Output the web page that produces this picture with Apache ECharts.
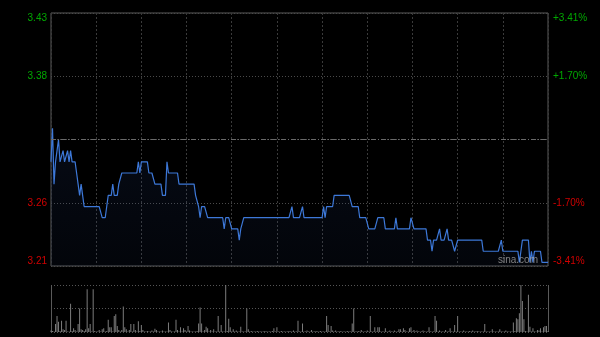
<!DOCTYPE html>
<html>
<head>
<meta charset="utf-8">
<script src="https://cdn.jsdelivr.net/npm/echarts@6/dist/echarts.min.js"></script>
<style>
html,body{margin:0;padding:0;background:#000;}
#c{width:600px;height:337px;}
</style>
</head>
<body>
<div id="c"></div>
<script>
// previous close and tick labels
var prevClose = 3.32;
var tickPct = [-3.41, -1.705, 0, 1.705, 3.41];
var leftLabels = ['3.21', '3.26', '', '3.38', '3.43'];
var rightLabels = ['-3.41%', '-1.70%', '', '+1.70%', '+3.41%'];

// minute prices (HK session, 331 minutes)
var prices = [
3.30,3.33,3.28,3.30,3.30,3.32,3.30,3.30,3.31,3.30,
3.30,3.31,3.30,3.31,3.30,3.30,3.30,3.29,3.28,3.27,
3.28,3.27,3.26,3.26,3.26,3.26,3.26,3.26,3.26,3.26,
3.26,3.26,3.26,3.26,3.25,3.25,3.25,3.26,3.27,3.27,
3.27,3.28,3.27,3.27,3.27,3.28,3.28,3.29,3.29,3.29,
3.29,3.29,3.29,3.29,3.29,3.29,3.29,3.29,3.30,3.29,
3.30,3.30,3.30,3.30,3.30,3.29,3.29,3.29,3.29,3.28,
3.28,3.28,3.28,3.28,3.27,3.27,3.27,3.30,3.29,3.29,
3.29,3.29,3.29,3.29,3.29,3.28,3.28,3.28,3.28,3.28,
3.28,3.28,3.28,3.28,3.28,3.28,3.27,3.27,3.26,3.25,
3.26,3.26,3.26,3.26,3.25,3.25,3.25,3.25,3.25,3.25,
3.25,3.25,3.25,3.25,3.25,3.24,3.25,3.25,3.25,3.25,
3.24,3.24,3.24,3.24,3.24,3.23,3.24,3.24,3.25,3.25,
3.25,3.25,3.25,3.25,3.25,3.25,3.25,3.25,3.25,3.25,
3.25,3.25,3.25,3.25,3.25,3.25,3.25,3.25,3.25,3.25,
3.25,3.25,3.25,3.25,3.25,3.25,3.25,3.25,3.25,3.25,
3.26,3.25,3.25,3.25,3.25,3.25,3.25,3.26,3.25,3.25,
3.25,3.25,3.25,3.25,3.25,3.25,3.25,3.25,3.25,3.25,
3.25,3.26,3.25,3.26,3.26,3.26,3.26,3.26,3.27,3.27,
3.27,3.27,3.27,3.27,3.27,3.27,3.27,3.27,3.27,3.27,
3.26,3.26,3.26,3.26,3.26,3.25,3.25,3.25,3.25,3.25,
3.25,3.24,3.24,3.24,3.24,3.24,3.24,3.25,3.25,3.25,
3.25,3.25,3.24,3.24,3.24,3.24,3.24,3.24,3.24,3.25,
3.24,3.24,3.24,3.24,3.24,3.24,3.24,3.24,3.24,3.25,
3.25,3.24,3.24,3.24,3.24,3.24,3.24,3.24,3.24,3.24,
3.23,3.23,3.23,3.22,3.23,3.23,3.23,3.23,3.24,3.23,
3.23,3.23,3.23,3.24,3.23,3.23,3.23,3.23,3.22,3.22,
3.23,3.23,3.23,3.23,3.23,3.23,3.23,3.23,3.23,3.23,
3.23,3.23,3.23,3.23,3.23,3.23,3.23,3.22,3.22,3.22,
3.22,3.22,3.22,3.22,3.22,3.22,3.22,3.22,3.22,3.23,
3.22,3.22,3.22,3.22,3.22,3.22,3.22,3.22,3.22,3.22,
3.22,3.21,3.22,3.23,3.23,3.23,3.23,3.23,3.21,3.22,
3.21,3.22,3.22,3.22,3.22,3.22,3.21,3.21,3.21,3.21,
3.21
];

// minute volumes (relative units)
var volumes = [
3,2,1,17,34,22,2,24,6,4,
24,1,1,60,2,8,4,1,17,50,
6,4,2,6,91,8,17,1,91,2,
1,1,4,1,6,8,1,2,26,10,
10,1,34,38,13,4,1,4,54,10,
6,1,4,17,1,17,4,1,23,2,
15,4,1,1,2,1,1,3,1,7,
4,1,1,1,3,1,1,1,20,4,
1,1,1,26,4,1,10,1,8,4,
1,13,3,1,1,1,1,2,18,52,
18,1,4,11,8,1,4,1,6,1,
1,34,1,15,1,1,100,2,28,10,
1,6,1,3,1,1,11,1,1,1,
50,6,1,2,1,1,1,2,1,1,
1,1,2,1,1,1,1,2,8,1,
10,1,1,2,1,1,1,1,2,1,
1,3,1,1,24,1,1,18,1,1,
3,1,1,4,1,1,2,1,1,2,
1,1,1,34,15,1,13,3,1,3,
1,1,2,1,1,1,1,2,1,1,
18,50,1,1,2,1,4,1,1,1,
3,1,34,1,1,10,1,10,10,1,
1,1,8,1,1,3,1,1,3,1,
1,6,6,1,8,4,1,1,8,10,
1,4,1,3,1,1,1,3,1,1,
1,10,1,1,1,34,24,1,3,1,
1,1,4,1,1,8,1,1,15,1,
34,1,1,1,3,1,1,1,2,1,
3,1,1,2,1,1,1,1,17,1,
1,1,1,6,1,1,1,1,6,1,
1,1,3,1,1,1,1,20,2,29,
27,40,100,66,27,2,1,79,11,1,
8,1,1,4,3,8,1,10,13,13,
2
];

var pricePct = prices.map(function (p, i) { return [i, (p / prevClose - 1) * 100]; });
var volData = volumes.map(function (v, i) { return [i, v]; });

function tickIndex(v) {
  var best = 0, bd = 1e9;
  for (var i = 0; i < tickPct.length; i++) {
    var d = Math.abs(tickPct[i] - v);
    if (d < bd) { bd = d; best = i; }
  }
  return best;
}

var chart = echarts.init(document.getElementById('c'), null, {renderer: 'canvas'});
var labelFont = {fontFamily: 'Liberation Sans, Arial, sans-serif', fontSize: 10};

chart.setOption({
  backgroundColor: '#000',
  animation: false,
  grid: [
    {left: 51, right: 52, top: 13, height: 253, show: true, borderColor: '#5a5a5a', borderWidth: 1, backgroundColor: 'transparent'},
    {left: 51, right: 52, top: 285, height: 47, show: false}
  ],
  xAxis: [
    {type: 'value', gridIndex: 0, min: 0, max: 330, interval: 30,
     axisLine: {show: false}, axisTick: {show: false}, axisLabel: {show: false},
     splitLine: {show: true, lineStyle: {color: '#3a3a3a', type: [2, 2], width: 1}}},
    {type: 'value', gridIndex: 1, min: 0, max: 330, interval: 330,
     axisLine: {show: false}, axisTick: {show: false}, axisLabel: {show: false},
     splitLine: {show: true, lineStyle: {color: '#5a5a5a', type: 'solid', width: 1}}}
  ],
  yAxis: [
    {type: 'value', gridIndex: 0, min: -3.41, max: 3.41, interval: 1.705,
     axisLine: {show: false}, axisTick: {show: false},
     axisLabel: Object.assign({
       margin: 4,
       verticalAlignMaxLabel: 'top', verticalAlignMinLabel: 'bottom',
       formatter: function (v) { return leftLabels[tickIndex(v)]; },
       color: function (v) { return v > 0.001 ? '#00a800' : '#d00000'; }
     }, labelFont),
     splitLine: {show: true, lineStyle: {color: '#4a4a4a', type: [1, 2], width: 1}}},
    {type: 'value', gridIndex: 0, position: 'right', min: -3.41, max: 3.41, interval: 1.705,
     axisLine: {show: false}, axisTick: {show: false},
     axisLabel: Object.assign({
       margin: 5,
       verticalAlignMaxLabel: 'top', verticalAlignMinLabel: 'bottom',
       formatter: function (v) { return rightLabels[tickIndex(v)]; },
       color: function (v) { return v > 0.001 ? '#00a800' : '#d00000'; }
     }, labelFont),
     splitLine: {show: false}},
    {type: 'value', gridIndex: 1, min: 0, max: 100, interval: 50,
     axisLine: {show: false}, axisTick: {show: false}, axisLabel: {show: false},
     splitLine: {show: true, lineStyle: {color: '#555', type: [1, 2], width: 1}}}
  ],
  series: [
    {type: 'line', xAxisIndex: 0, yAxisIndex: 0, data: pricePct, showSymbol: false, symbol: 'none',
     lineStyle: {color: '#3d78d8', width: 1.2},
     areaStyle: {origin: 'start', color: new echarts.graphic.LinearGradient(0, 0, 0, 1, [
       {offset: 0, color: 'rgba(40,70,140,0.22)'},
       {offset: 1, color: 'rgba(40,70,140,0.10)'}
     ])},
     markLine: {silent: true, symbol: 'none', label: {show: false},
       lineStyle: {color: '#6a6a6a', type: [5, 2, 1, 2], width: 1},
       data: [{yAxis: 0}]},
     z: 3},
    {type: 'bar', xAxisIndex: 1, yAxisIndex: 2, data: volData, barWidth: 1,
     itemStyle: {color: '#7c7c7c'}, z: 3}
  ],
  graphic: [
    {type: 'text', left: 498, top: 255, z: 10,
     style: {text: 'sina.com', fill: 'rgba(170,170,170,0.75)', font: '10px Liberation Sans, Arial, sans-serif'}}
  ]
});
</script>
</body>
</html>
